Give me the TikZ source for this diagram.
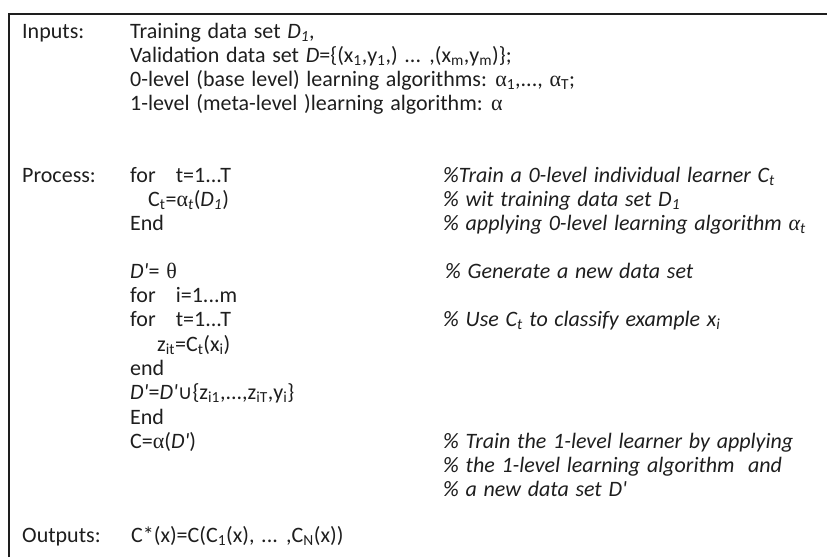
\documentclass[tikz,border=0pt]{standalone}
\usepackage{fontspec}
\setmainfont{Carlito}[WordSpace=1.35]
\newfontfamily\grk{Liberation Serif}
\newfontfamily\sym{DejaVu Sans}
\newcommand\sbs[1]{\textsubscript{#1}}
\newcommand\al{{\grk α}}
\newcommand\alit{{\grk\itshape α}}
\newcommand\qt{\textquotesingle}
\definecolor{ink}{HTML}{1E1E1E}
\begin{document}
\begin{tikzpicture}[x=1pt,y=-1pt,
  txt/.style={anchor=base west,inner sep=0pt,text=ink,font=\fontsize{22}{26}\selectfont},
  cmt/.style={txt,font=\fontsize{22}{26}\selectfont\itshape},
  frame/.style={draw=ink,line width=2.6pt}]
\useasboundingbox (0,0) rectangle (827,557);
\draw[frame] (9,557) -- (9,14) -- (827,14);
% Inputs
\node[txt] (lin) at (22,38) {Inputs:};
\node[txt] (i1) at (130,38) {Training data set \textit{D\sbs{1}},};
\node[txt] (i2) at (130,62.5) {Validation data set \textit{D}=\{(x\sbs{1},y\sbs{1},) ... ,(x\sbs{m},y\sbs{m})\};};
\node[txt] (i3) at (130,86.5) {0-level (base level) learning algorithms: \al\sbs{1},..., \al\sbs{T};};
\node[txt] (i4) at (130,110.5) {1-level (meta-level )learning algorithm: \al};
% Process
\node[txt] (lpr) at (22,182) {Process:};
\node[txt] (p1) at (130,182) {for\ \ \ t=1...T};
\node[txt] (p2) at (148,206) {C\sbs{t}=\al\sbs{\textit{t}}(\textit{D\sbs{1}})};
\node[txt] (p3) at (130,230.5) {End};
\node[txt] (p4) at (130,278) {\textit{D\qt}= {\grk θ}};
\node[txt] (p5) at (130,302.5) {for\ \ \ i=1...m};
\node[txt] (p6) at (130,326.5) {for\ \ \ t=1...T};
\node[txt] (p7) at (157,351) {z\sbs{it}=C\sbs{t}(x\sbs{i})};
\node[txt] (p8) at (130,375.5) {end};
\node[txt] (p9) at (130,399.5) {\textit{D\qt}=\textit{D\qt}{\sym\fontsize{20}{24}\selectfont ∪}\{z\sbs{i1},...,z\sbs{iT},y\sbs{i}\}};
\node[txt] (p10) at (130,424.5) {End};
\node[txt] (p11) at (130,448) {C=\al(\textit{D\qt})};
% comments
\node[cmt] (c1) at (443,182) {\%Train a 0-level individual learner C\sbs{t}};
\node[cmt] (c2) at (443,206) {\% wit training data set D\sbs{1}};
\node[cmt] (c3) at (443,230.5) {\% applying 0-level learning algorithm \alit\sbs{t}};
\node[cmt] (c4) at (445,278) {\% Generate a new data set};
\node[cmt] (c5) at (443,326.5) {\% Use C\sbs{t} to classify example x\sbs{i}};
\node[cmt] (c6) at (443,448) {\% Train the 1-level learner by applying};
\node[cmt] (c7) at (443,472) {\% the 1-level learning algorithm\ \ and};
\node[cmt] (c8) at (443,496) {\% a new data set D\qt};
% Outputs
\node[txt] (lout) at (22,542) {Outputs:};
\node[txt] (o1) at (131,542) {C*(x)=C(C\sbs{1}(x), ... ,C\sbs{N}(x))};
\end{tikzpicture}
\end{document}
